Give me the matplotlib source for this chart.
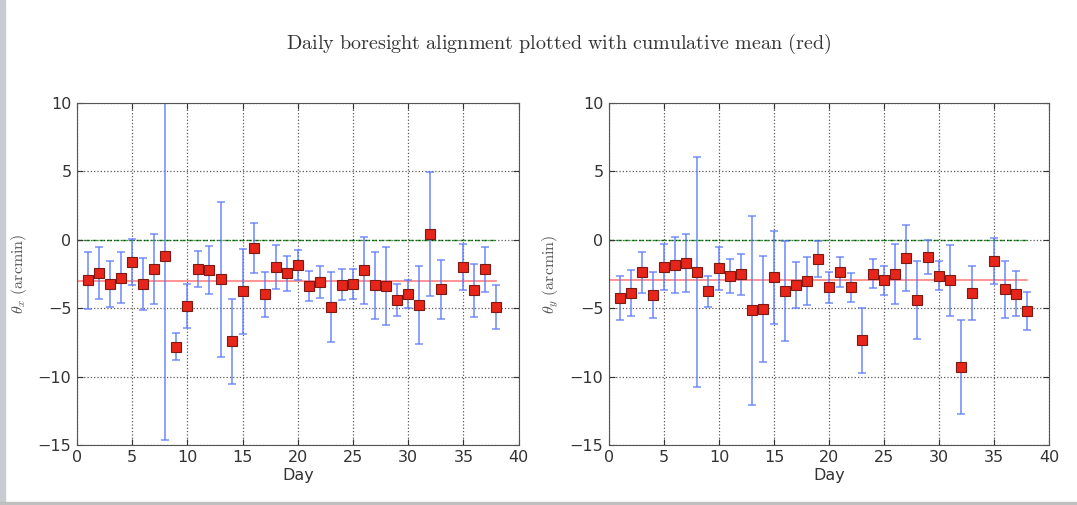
import matplotlib
matplotlib.use('Agg')
import matplotlib.pyplot as plt
import numpy as np

days = [1, 2, 3, 4, 5, 6, 7, 8, 9, 10, 11, 12, 13, 14, 15, 16, 17, 18, 19,
        20, 21, 22, 23, 24, 25, 26, 27, 28, 29, 30, 31, 32, 33, 35, 36, 37, 38]

theta_x = [-2.96, -2.45, -3.25, -2.76, -1.64, -3.25, -2.15, -1.20, -7.82, -4.82,
           -2.13, -2.22, -2.89, -7.43, -3.77, -0.61, -3.99, -2.00, -2.45, -1.86,
           -3.40, -3.10, -4.91, -3.28, -3.25, -2.22, -3.33, -3.40, -4.43, -3.94,
           -4.74, 0.42, -3.62, -2.00, -3.69, -2.15, -4.94]
err_x = [2.10, 1.90, 1.70, 1.85, 1.70, 1.90, 2.55, 13.45, 1.00, 1.60,
         1.30, 1.75, 5.65, 3.10, 3.10, 1.83, 1.65, 1.60, 1.27, 1.10,
         1.10, 1.17, 2.53, 1.13, 1.10, 2.45, 2.43, 2.86, 1.17, 1.03,
         2.85, 4.55, 2.15, 1.70, 1.95, 1.65, 1.60]
mean_x = -2.98

theta_y = [-4.28, -3.89, -2.37, -4.06, -2.00, -1.83, -1.71, -2.37, -3.77, -2.10,
           -2.64, -2.52, -5.16, -5.06, -2.74, -3.72, -3.30, -3.03, -1.42, -3.47,
           -2.35, -3.47, -7.36, -2.49, -2.96, -2.49, -1.34, -4.43, -1.25, -2.62,
           -2.96, -9.32, -3.89, -1.54, -3.62, -3.96, -5.21]
err_y = [1.60, 1.65, 1.50, 1.67, 1.67, 2.05, 2.10, 8.40, 1.15, 1.60,
         1.25, 1.50, 6.90, 3.90, 3.40, 3.65, 1.70, 1.75, 1.30, 1.13,
         1.10, 1.07, 2.37, 1.07, 1.05, 2.20, 2.40, 2.85, 1.22, 1.07,
         2.60, 3.45, 2.00, 1.70, 2.07, 1.65, 1.37]
mean_y = -2.96

plt.rcParams['mathtext.fontset'] = 'cm'
plt.rcParams['font.family'] = 'DejaVu Sans'

fig = plt.figure(figsize=(10.77, 5.05), dpi=100)
fig.patch.set_facecolor('white')

# grey slide border left and bottom
fig.patches.append(plt.Rectangle((0, 0), 0.005, 1, transform=fig.transFigure,
                                 color='#c8ccd0', zorder=-1))
fig.patches.append(plt.Rectangle((0, 0), 1, 0.006, transform=fig.transFigure,
                                 color='#c0c0c0', zorder=-1))

fig.text(0.519, 0.913,
         r'$\mathrm{Daily\ boresight\ alignment\ plotted\ with\ cumulative\ mean\ (red)}$',
         ha='center', va='center', fontsize=14.5, color='#333333')

positions = [[0.0715, 0.119, 0.410, 0.677], [0.5655, 0.119, 0.4085, 0.677]]
series = [(theta_x, err_x, mean_x, r'$\theta_x\ \mathrm{(arcmin)}$'),
          (theta_y, err_y, mean_y, r'$\theta_y\ \mathrm{(arcmin)}$')]

for pos, (vals, errs, mean, ylab) in zip(positions, series):
    ax = fig.add_axes(pos)
    ax.errorbar(days, vals, yerr=errs, fmt='none', ecolor='#5a78ff', alpha=0.7,
                elinewidth=1.4, capsize=3, capthick=1.3, zorder=2)
    ax.plot(days, vals, 's', color='#e8251b', markeredgecolor='#7a1a12',
            markersize=7, markeredgewidth=0.8, zorder=3)
    ax.plot([0, days[-1]], [0, 0], '--', color='#2ca02c', linewidth=1, zorder=1)
    ax.plot([0, days[-1]], [mean, mean], '-', color='#ff8080', linewidth=1.2, zorder=1)
    ax.set_xlim(0, 40)
    ax.set_ylim(-15, 10)
    ax.set_xticks(range(0, 41, 5))
    ax.set_yticks(range(-15, 11, 5))
    ax.grid(True, color='black', linestyle=':', linewidth=0.9, alpha=0.65)
    ax.tick_params(direction='in', top=True, right=True, labelsize=11.5,
                   colors='#333333', length=4, pad=4)
    for s in ax.spines.values():
        s.set_color('#555555')
    ax.set_xlabel('Day', fontsize=11.5, color='#333333', labelpad=2)
    ax.set_ylabel(ylab, fontsize=11.5, color='#555555', labelpad=6)

fig.savefig('out.png', dpi=100, facecolor=fig.get_facecolor())
